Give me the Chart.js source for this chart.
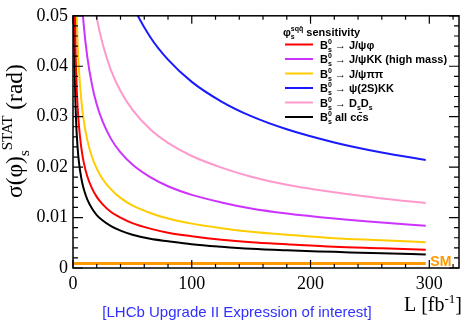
<!DOCTYPE html>
<html>
<head>
<meta charset="utf-8">
<script src="https://cdn.jsdelivr.net/npm/chart.js@4.4.0/dist/chart.umd.min.js"></script>
<style>
  html, body { margin: 0; padding: 0; background: #fff; }
</style>
</head>
<body>
<canvas id="phisChart" width="466" height="321"></canvas>
<script>
const lumi = [0.5, 1, 1.5, 2, 3, 4, 5, 7, 9, 12, 16, 20, 25, 32, 40, 50, 65, 80, 100, 125, 150, 180, 220, 260, 297];

// sigma(phi_s) stat, one list per channel
const sigJpsiPhi = [0.0891, 0.063, 0.0514, 0.0445, 0.0364, 0.0315, 0.0282, 0.0238, 0.0210, 0.0182, 0.0158, 0.0141, 0.0126, 0.0111, 0.0100, 0.0089, 0.0078, 0.0070, 0.0063, 0.0056, 0.0051, 0.0047, 0.0042, 0.0039, 0.0036];
const sigJpsiKKhigh = [0.2051, 0.145, 0.1184, 0.1025, 0.0837, 0.0725, 0.0648, 0.0548, 0.0483, 0.0419, 0.0363, 0.0324, 0.0290, 0.0256, 0.0229, 0.0205, 0.0180, 0.0162, 0.0145, 0.0130, 0.0118, 0.0108, 0.0098, 0.0090, 0.0084];
const sigJpsiPiPi = [0.1245, 0.088, 0.0719, 0.0622, 0.0508, 0.0440, 0.0394, 0.0333, 0.0293, 0.0254, 0.0220, 0.0197, 0.0176, 0.0156, 0.0139, 0.0124, 0.0109, 0.0098, 0.0088, 0.0079, 0.0072, 0.0066, 0.0059, 0.0055, 0.0051];
const sigPsi2SKK = [0.5218, 0.369, 0.3013, 0.2609, 0.2130, 0.1845, 0.1650, 0.1395, 0.1230, 0.1065, 0.0923, 0.0825, 0.0738, 0.0652, 0.0583, 0.0522, 0.0458, 0.0413, 0.0369, 0.0330, 0.0301, 0.0275, 0.0249, 0.0229, 0.0214];
const sigDsDs = [0.314, 0.222, 0.1813, 0.157, 0.1282, 0.111, 0.0993, 0.0839, 0.0740, 0.0641, 0.0555, 0.0496, 0.0444, 0.0392, 0.0351, 0.0314, 0.0275, 0.0248, 0.0222, 0.0199, 0.0181, 0.0165, 0.0150, 0.0138, 0.0129];
const sigAllCcs = [0.0665, 0.047, 0.0384, 0.0332, 0.0271, 0.0235, 0.0210, 0.0178, 0.0157, 0.0136, 0.0118, 0.0105, 0.0094, 0.0083, 0.0074, 0.0066, 0.0058, 0.0053, 0.0047, 0.0042, 0.0038, 0.0035, 0.0032, 0.0029, 0.0027];

// Standard Model reference line
const smLumi = [0, 297];
const smLevel = [0.0009, 0.0009];

// axis ticks
const xTickVals = [0, 100, 200, 300];
const yTickVals = [0, 0.01, 0.02, 0.03, 0.04, 0.05];

// legend texts (^{} superscript, _{} subscript)
const legendHeader = 'φ^{sqq̄}_{s} sensitivity';
const legendLabels = [
    'B^{0}_{s} → J/ψφ',
    'B^{0}_{s} → J/ψKK (high mass)',
    'B^{0}_{s} → J/ψππ',
    'B^{0}_{s} → ψ(2S)KK',
    'B^{0}_{s} → D_{s}D_{s}',
    'B^{0}_{s} all cc\u0304s'
];
const seriesList = [sigJpsiPhi, sigJpsiKKhigh, sigJpsiPiPi, sigPsi2SKK, sigDsDs, sigAllCcs];
const seriesColors = ['#ff0000', '#cc33ff', '#ffcc00', '#1a1aff', '#ff99cc', '#000000'];

const SERIF = '"Liberation Serif", "Times New Roman", serif';
const SANS = '"Liberation Sans", Arial, sans-serif';

// --- petit moteur de texte avec indices / exposants ---
function parseRich(str) {
    const out = [];
    let i = 0;
    while (i < str.length) {
        if ((str[i] === '^' || str[i] === '_') && str[i + 1] === '{') {
            const end = str.indexOf('}', i);
            out.push({ t: str.slice(i + 2, end), k: str[i] === '^' ? 'sup' : 'sub' });
            i = end + 1;
        } else {
            let j = i;
            while (j < str.length && !((str[j] === '^' || str[j] === '_') && str[j + 1] === '{')) j++;
            out.push({ t: str.slice(i, j), k: 'n' });
            i = j;
        }
    }
    return out;
}

function drawRich(ctx, str, x, y, size, family, weight, measureOnly) {
    const parts = parseRich(str);
    let cx = x, pendingSup = 0;
    parts.forEach((p, idx) => {
        const fs = p.k === 'n' ? size : Math.round(size * 0.65);
        ctx.font = `${weight} ${fs}px ${family}`;
        const w = ctx.measureText(p.t).width;
        const dy = p.k === 'sup' ? -size * 0.42 : (p.k === 'sub' ? size * 0.28 : 0);
        if (!measureOnly) ctx.fillText(p.t, cx, y + dy);
        const next = parts[idx + 1];
        if (p.k === 'sup' && next && next.k === 'sub') {
            pendingSup = w;
        } else if (p.k === 'sub' && pendingSup) {
            cx += Math.max(w, pendingSup);
            pendingSup = 0;
        } else {
            cx += w;
        }
    });
    return cx - x;
}

// cadre façon ROOT : ticks vers l'intérieur sur les 4 côtés + textes
const rootFrame = {
    id: 'rootFrame',
    afterDraw(chart) {
        const { ctx, chartArea: a, scales: { x, y } } = chart;
        ctx.save();
        ctx.strokeStyle = '#000';
        ctx.lineWidth = 1.5;
        ctx.strokeRect(a.left, a.top, a.right - a.left, a.bottom - a.top);

        ctx.lineWidth = 1.2;
        ctx.beginPath();
        for (let v = 0; v <= x.max; v += 20) {
            const px = x.getPixelForValue(v);
            const len = v % 100 === 0 ? 8 : 4;
            ctx.moveTo(px, a.bottom); ctx.lineTo(px, a.bottom - len);
            ctx.moveTo(px, a.top); ctx.lineTo(px, a.top + len);
        }
        for (let k = 0; k <= 25; k++) {
            const py = y.getPixelForValue(k * 0.002);
            const len = k % 5 === 0 ? 10 : 5;
            ctx.moveTo(a.left, py); ctx.lineTo(a.left + len, py);
            ctx.moveTo(a.right, py); ctx.lineTo(a.right - len, py);
        }
        ctx.stroke();

        // SM label
        ctx.fillStyle = '#ff9900';
        ctx.font = `bold 14px ${SANS}`;
        ctx.textBaseline = 'alphabetic';
        ctx.fillText('SM', x.getPixelForValue(300) + 1, y.getPixelForValue(smLevel[1]) + 3);

        // legend
        const lx0 = 285, lx1 = 313, tx = 320;
        ctx.fillStyle = '#000';
        drawRich(ctx, legendHeader, 283, 36, 11, SANS, 'bold');
        legendLabels.forEach((lab, i) => {
            const cy = 44.5 + i * 14.5;
            ctx.strokeStyle = seriesColors[i];
            ctx.lineWidth = 2;
            ctx.beginPath(); ctx.moveTo(lx0, cy); ctx.lineTo(lx1, cy); ctx.stroke();
            ctx.fillStyle = '#000';
            drawRich(ctx, lab, tx, cy + 4, 11, SANS, 'bold');
        });

        // y title (rotated)
        const yTitle = 'σ(φ)_{s}^{STAT} (rad)';
        ctx.save();
        ctx.translate(22, 131);
        ctx.rotate(-Math.PI / 2);
        const w = drawRich(ctx, yTitle, 0, 0, 23.5, SERIF, 'normal', true);
        drawRich(ctx, yTitle, -w / 2, 0, 23.5, SERIF, 'normal');
        ctx.restore();

        // x title
        const xTitle = 'L [fb^{-1}]';
        const xw = drawRich(ctx, xTitle, 0, 0, 20, SERIF, 'normal', true);
        drawRich(ctx, xTitle, 462 - xw, 311, 20, SERIF, 'normal');

        // source note
        ctx.fillStyle = '#3030ff';
        ctx.font = `15px ${SANS}`;
        ctx.textAlign = 'center';
        ctx.fillText('[LHCb Upgrade II Expression of interest]', 237, 317);
        ctx.restore();
    }
};

const datasets = seriesList.map((vals, i) => ({
    label: legendLabels[i],
    data: lumi.map((l, j) => ({ x: l, y: vals[j] })),
    borderColor: seriesColors[i],
    borderWidth: 2,
    pointRadius: 0,
    showLine: true,
    cubicInterpolationMode: 'monotone'
}));
datasets.push({
    label: 'SM',
    data: smLumi.map((l, j) => ({ x: l, y: smLevel[j] })),
    borderColor: '#ff9900',
    borderWidth: 3,
    pointRadius: 0,
    showLine: true
});

new Chart(document.getElementById('phisChart'), {
    type: 'scatter',
    data: { datasets },
    options: {
        responsive: false,
        animation: false,
        devicePixelRatio: 1,
        layout: { padding: { top: 11, right: 7, left: 0, bottom: 0 } },
        plugins: { legend: { display: false }, tooltip: { enabled: false } },
        scales: {
            x: {
                type: 'linear',
                min: 0, max: 325,
                grid: { display: false, drawTicks: false },
                border: { display: false },
                afterBuildTicks: s => { s.ticks = xTickVals.map(v => ({ value: v })); },
                afterFit: s => { s.height = 53; },
                ticks: { color: '#000', padding: 5, font: { family: SERIF, size: 18 }, maxRotation: 0 }
            },
            y: {
                type: 'linear',
                min: 0, max: 0.05,
                grid: { display: false, drawTicks: false },
                border: { display: false },
                afterBuildTicks: s => { s.ticks = yTickVals.map(v => ({ value: v })); },
                afterFit: s => { s.width = 73; },
                ticks: {
                    color: '#000', padding: 5, font: { family: SERIF, size: 18 },
                    callback: v => v === 0 ? '0' : v.toFixed(2)
                }
            }
        }
    },
    plugins: [rootFrame]
});
</script>
</body>
</html>
